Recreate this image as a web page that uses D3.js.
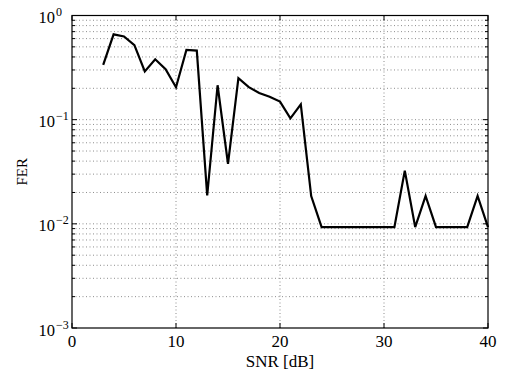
<!DOCTYPE html>
<html>
<head>
<meta charset="utf-8">
<script src="https://cdn.jsdelivr.net/npm/d3@7"></script>
<style>
  html, body { margin: 0; padding: 0; background: #fff; }
  text { font-family: "Liberation Serif", "DejaVu Serif", serif; fill: #000; }
</style>
</head>
<body>
<div id="chart"></div>
<script>
const width = 507;
const height = 372;

// SNR in dB and the frame error rate
const snr = [3, 4, 5, 6, 7, 8, 9, 10, 11, 12, 13, 14, 15, 16, 17, 18, 19, 20, 21, 22, 23, 24,
    25, 26, 27, 28, 29, 30, 31, 32, 33, 34, 35, 36, 37, 38, 39, 40];
const fer = [0.335, 0.66, 0.63, 0.52, 0.29, 0.38, 0.305, 0.205, 0.467, 0.46, 0.0187, 0.214, 0.0376, 0.25, 0.205, 0.18, 0.166, 0.149, 0.103, 0.14, 0.0185, 0.0093,
    0.0093, 0.0093, 0.0093, 0.0093, 0.0093, 0.0093, 0.0093, 0.0324, 0.0093, 0.0185, 0.0093, 0.0093, 0.0093, 0.0093, 0.0185, 0.0093];

const xTicks = [0, 10, 20, 30, 40];
const yDecades = [0, -1, -2, -3];

const margin = { top: 15.5, right: 19, bottom: 44, left: 72 };
const plotW = width - margin.left - margin.right;
const plotH = height - margin.top - margin.bottom;

const x = d3.scaleLinear().domain([0, 40]).range([0, plotW]);
const y = d3.scaleLog().domain([1e-3, 1]).range([plotH, 0]);

const svg = d3.select("#chart")
    .append("svg")
    .attr("width", width)
    .attr("height", height);

const g = svg.append("g")
    .attr("transform", `translate(${margin.left},${margin.top})`);

// minor + major values on the log axis
const yMinor = [];
yDecades.slice(0, 3).forEach(e => {
    for (let m = 1; m < 10; m++) yMinor.push(m * Math.pow(10, e - 1));
});

// dotted grid
g.selectAll(".hgrid")
    .data(yMinor.filter(v => v > 1e-3 && v < 1))
    .enter().append("line")
    .attr("x1", 0).attr("x2", plotW)
    .attr("y1", d => y(d)).attr("y2", d => y(d))
    .attr("stroke", "#000")
    .attr("stroke-opacity", 0.45)
    .attr("stroke-width", 1)
    .attr("stroke-dasharray", "1,2.5");

g.selectAll(".vgrid")
    .data(xTicks.slice(1, -1))
    .enter().append("line")
    .attr("x1", d => x(d)).attr("x2", d => x(d))
    .attr("y1", 0).attr("y2", plotH)
    .attr("stroke", "#000")
    .attr("stroke-opacity", 0.45)
    .attr("stroke-width", 1)
    .attr("stroke-dasharray", "1,2.5");

// inward ticks on all four sides
const tickLen = 5, minorLen = 3;
xTicks.forEach(t => {
    g.append("line").attr("x1", x(t)).attr("x2", x(t)).attr("y1", plotH).attr("y2", plotH - tickLen).attr("stroke", "#000");
    g.append("line").attr("x1", x(t)).attr("x2", x(t)).attr("y1", 0).attr("y2", tickLen).attr("stroke", "#000");
});
yMinor.forEach(v => {
    const len = (Math.abs(Math.log10(v) - Math.round(Math.log10(v))) < 1e-9) ? tickLen : minorLen;
    g.append("line").attr("x1", 0).attr("x2", len).attr("y1", y(v)).attr("y2", y(v)).attr("stroke", "#000");
    g.append("line").attr("x1", plotW).attr("x2", plotW - len).attr("y1", y(v)).attr("y2", y(v)).attr("stroke", "#000");
});

// frame
g.append("rect")
    .attr("width", plotW)
    .attr("height", plotH)
    .attr("fill", "none")
    .attr("stroke", "#000")
    .attr("stroke-width", 1.2);

// FER curve
const line = d3.line()
    .x((d, i) => x(snr[i]))
    .y(d => y(d));

g.append("path")
    .datum(fer)
    .attr("d", line)
    .attr("fill", "none")
    .attr("stroke", "#000")
    .attr("stroke-width", 2.2)
    .attr("stroke-linejoin", "miter");

// x tick labels
g.selectAll(".xlab")
    .data(xTicks)
    .enter().append("text")
    .attr("x", d => x(d))
    .attr("y", plotH + 19)
    .attr("text-anchor", "middle")
    .attr("font-size", "17px")
    .text(d => d);

// y tick labels: 10^e
yDecades.forEach(e => {
    const t = g.append("text")
        .attr("x", -33.5)
        .attr("y", y(Math.pow(10, e)) + 7.5)
        .attr("font-size", "16.5px");
    t.append("tspan").text("10");
    t.append("tspan")
        .attr("dx", 1)
        .attr("dy", -7)
        .attr("font-size", "12px")
        .text(e === 0 ? "0" : "\u2212" + Math.abs(e));
});

// axis titles
svg.append("text")
    .attr("x", margin.left + plotW / 2)
    .attr("y", 367)
    .attr("text-anchor", "middle")
    .attr("font-size", "17px")
    .text("SNR [dB]");

svg.append("text")
    .attr("transform", `translate(26.5,${margin.top + plotH / 2}) rotate(-90)`)
    .attr("text-anchor", "middle")
    .attr("font-size", "15px")
    .text("FER");
</script>
</body>
</html>
